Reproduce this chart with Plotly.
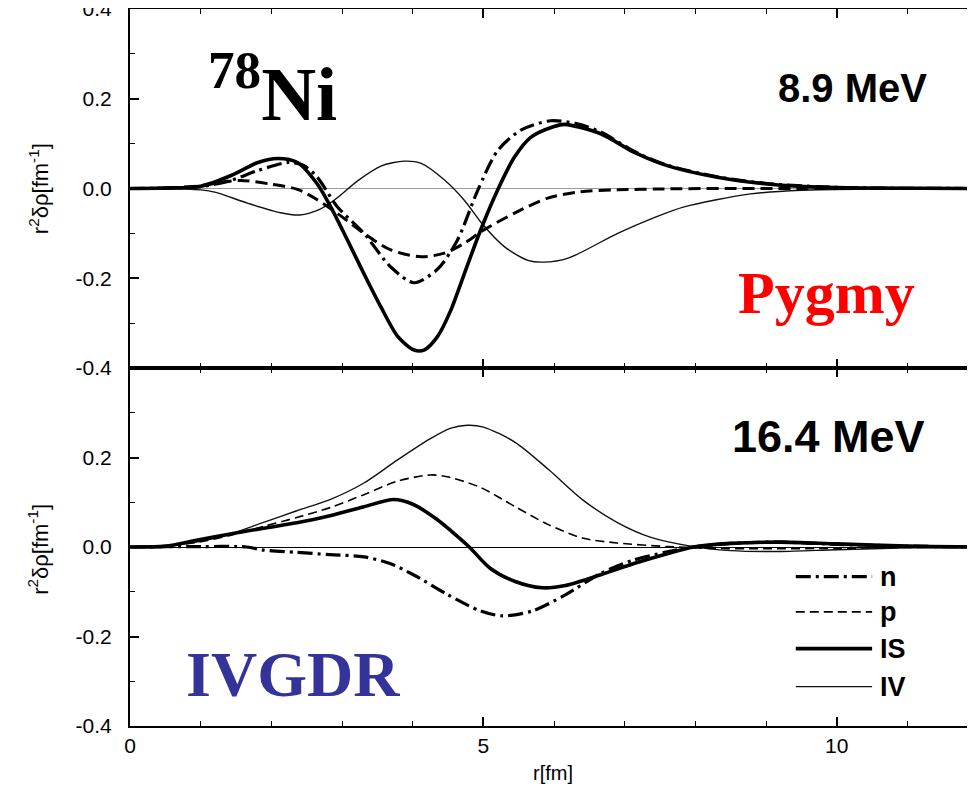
import plotly.graph_objects as go

# ---------------- data ----------------
# upper panel: 8.9 MeV (Pygmy)
r_is_top = [0, 0.5, 1.0, 1.43, 1.81, 2.09, 2.37, 2.65, 2.84, 3.08, 3.31, 3.55, 3.79, 4.02, 4.16,
            4.35, 4.54, 4.73, 4.96, 5.2, 5.44, 5.67, 6.0, 6.15, 6.66, 7.13, 7.6, 8.31, 9.02, 9.73, 10.5, 12]
v_is_top = [0, 0.001, 0.005, 0.029, 0.058, 0.067, 0.058, 0.010, -0.041, -0.116, -0.19, -0.264, -0.33, -0.36, -0.36,
            -0.33, -0.271, -0.19, -0.093, -0.004, 0.07, 0.114, 0.138, 0.143, 0.122, 0.081, 0.051, 0.025, 0.010, 0.003, 0.001, 0]

r_n_top = [0, 0.5, 1.0, 1.43, 1.81, 2.23, 2.45, 2.65, 2.93, 3.31, 3.69, 4.02, 4.35, 4.63, 4.92, 5.2,
           5.53, 5.95, 6.3, 6.66, 7.13, 7.6, 8.31, 9.02, 9.73, 10.5, 12]
v_n_top = [0, 0.001, 0.004, 0.018, 0.04, 0.058, 0.052, 0.025, -0.04, -0.1, -0.175, -0.21, -0.18, -0.116, -0.004, 0.084,
           0.13, 0.151, 0.145, 0.126, 0.083, 0.052, 0.026, 0.011, 0.004, 0.001, 0]

r_p_top = [0, 0.5, 1.0, 1.3, 1.57, 1.98, 2.37, 2.65, 2.93, 3.31, 3.69, 4.12, 4.45, 4.73, 5.0, 5.44,
           5.9, 6.33, 6.9, 7.5, 8.5, 12]
v_p_top = [0, 0.001, 0.006, 0.014, 0.018, 0.01, -0.002, -0.025, -0.055, -0.1, -0.137, -0.152, -0.144, -0.122, -0.093, -0.055,
           -0.022, -0.008, -0.003, -0.001, 0, 0]

r_iv_top = [0, 0.8, 1.0, 1.2, 1.67, 2.13, 2.4, 2.69, 2.93, 3.22, 3.55, 3.88, 4.12, 4.45, 4.73, 5.0,
            5.3, 5.63, 5.85, 6.2, 6.9, 7.4, 7.84, 8.78, 9.5, 10.5, 12]
v_iv_top = [0, -0.001, -0.003, -0.008, -0.033, -0.054, -0.059, -0.046, -0.021, 0.017, 0.05, 0.061, 0.056, 0.019, -0.026, -0.082,
            -0.13, -0.16, -0.164, -0.155, -0.1, -0.066, -0.041, -0.012, -0.004, -0.001, 0]

# lower panel: 16.4 MeV (IVGDR)
r_iv_bot = [0, 0.5, 0.94, 1.42, 1.89, 2.36, 2.83, 3.31, 3.78, 4.25, 4.53, 4.77, 5.0, 5.45, 5.93, 6.4,
            6.89, 7.36, 7.93, 8.5, 9.2, 10, 11, 12]
v_iv_bot = [0, 0.002, 0.011, 0.029, 0.055, 0.081, 0.106, 0.143, 0.194, 0.242, 0.265, 0.272, 0.268, 0.234, 0.172, 0.106,
            0.055, 0.022, 0.002, -0.008, -0.01, -0.006, -0.002, 0]

r_p_bot = [0, 0.5, 0.94, 1.42, 1.89, 2.36, 2.83, 3.31, 3.78, 4.25, 4.49, 4.96, 5.45, 5.92, 6.4, 6.89,
           7.6, 8.2, 9, 10, 11, 12]
v_p_bot = [0, 0.002, 0.01, 0.026, 0.046, 0.066, 0.088, 0.117, 0.147, 0.161, 0.157, 0.133, 0.09, 0.05, 0.02, 0.009,
           0.001, -0.003, -0.004, -0.003, -0.001, 0]

r_is_bot = [0, 0.5, 0.94, 1.42, 1.89, 2.36, 2.83, 3.31, 3.73, 4.01, 4.34, 4.55, 4.8, 5.1, 5.45,
            5.83, 6.16, 6.66, 7.13, 7.6, 7.97, 8.5, 9.2, 10, 11, 12]
v_is_bot = [0, 0.002, 0.015, 0.029, 0.042, 0.054, 0.07, 0.09, 0.106, 0.095, 0.062, 0.035, 0.0, -0.048, -0.077,
            -0.091, -0.086, -0.062, -0.037, -0.015, 0.0, 0.008, 0.011, 0.007, 0.002, 0]

r_n_bot = [0, 1.0, 1.65, 1.89, 2.36, 2.83, 3.31, 3.68, 4.01, 4.49, 4.96, 5.27, 5.69, 6.16, 6.66, 7.13,
           7.6, 7.97, 8.5, 9.2, 10, 11, 12]
v_n_bot = [0, 0.001, 0, -0.007, -0.012, -0.017, -0.022, -0.037, -0.062, -0.106, -0.143, -0.154, -0.143, -0.107, -0.059, -0.029,
           -0.011, 0.0, 0.008, 0.011, 0.006, 0.002, 0]

legend_names = ["n", "p", "IS", "IV"]
y_ticks_top = [-0.4, -0.2, 0.0, 0.2, 0.4]
y_ticks_bot = [-0.4, -0.2, 0.0, 0.2]
x_ticks = [0, 5, 10]

# ---------------- styles ----------------
DASHDOT = "15px,5px,3px,5px"
style = {
    "n": dict(color="black", width=3.2, dash=DASHDOT),
    "p_top": dict(color="black", width=3.0, dash="12px,6px"),
    "p_bot": dict(color="black", width=1.6, dash="9px,5px"),
    "IS": dict(color="black", width=3.6, dash="solid"),
    "IV": dict(color="#111111", width=1.4, dash="solid"),
}

fig = go.Figure()

def add(r, v, st, xa, ya):
    fig.add_trace(go.Scatter(x=r, y=v, mode="lines", line=dict(**st, shape="spline", smoothing=0.8),
                             xaxis=xa, yaxis=ya, showlegend=False, hoverinfo="skip"))

add(r_iv_top, v_iv_top, style["IV"], "x2", "y2")
add(r_p_top, v_p_top, style["p_top"], "x2", "y2")
add(r_n_top, v_n_top, style["n"], "x2", "y2")
add(r_is_top, v_is_top, style["IS"], "x2", "y2")

add(r_iv_bot, v_iv_bot, style["IV"], "x", "y")
add(r_p_bot, v_p_bot, style["p_bot"], "x", "y")
add(r_n_bot, v_n_bot, style["n"], "x", "y")
add(r_is_bot, v_is_bot, style["IS"], "x", "y")

sans = "Liberation Sans, Arial, sans-serif"
serif = "Liberation Serif, Times New Roman, serif"
tickfont = dict(family=sans, size=21, color="black")
XR = [0, 11.97]
common_x = dict(range=XR, showline=True, linewidth=2, linecolor="black", mirror="ticks",
                ticks="inside", ticklen=9, tickwidth=1.6, tickcolor="black", automargin=False,
                tickvals=x_ticks, showgrid=False, zeroline=False,
                minor=dict(dtick=1, tick0=0, ticks="inside", ticklen=5, tickwidth=1.4, tickcolor="black"))
common_y = dict(range=[-0.4, 0.4], showline=True, linewidth=2, linecolor="black", mirror="ticks",
                ticks="inside", ticklen=9, tickwidth=1.6, tickcolor="black", showgrid=False, automargin=False,
                zeroline=True, zerolinewidth=1, tickfont=tickfont, ticklabelstandoff=12,
                ticklabeloverflow="allow",
                minor=dict(tickvals=[-0.3, -0.1, 0.1, 0.3], ticks="inside", ticklen=5, tickwidth=1.4, tickcolor="black"))

H_BOT = 358 / 717

fig.update_layout(
    width=975, height=792,
    margin=dict(l=122, r=7, t=1, b=74),
    plot_bgcolor="white", paper_bgcolor="white",
    xaxis=dict(**common_x, anchor="y", tickfont=tickfont, ticklabelstandoff=0,
               title=dict(text="r[fm]", font=dict(family=sans, size=20, color="black"), standoff=10)),
    xaxis2=dict(**common_x, anchor="y2", matches="x", showticklabels=False),
    yaxis=dict(**common_y, domain=[0, H_BOT], anchor="x", zerolinecolor="black",
               tickvals=y_ticks_bot, ticktext=["%.1f" % t for t in y_ticks_bot]),
    yaxis2=dict(**common_y, domain=[H_BOT, 1], anchor="x2", zerolinecolor="#9a9a9a",
                tickvals=y_ticks_top, ticktext=["%.1f" % t for t in y_ticks_top]),
)

ylab_font = dict(family=sans, size=22, color="black")
ylab = "r<sup>2</sup>δρ[fm<sup>-1</sup>]"
fig.add_annotation(text=ylab, xref="paper", yref="y2", x=-0.108, y=0.0, textangle=-90,
                   showarrow=False, font=ylab_font, xanchor="center", yanchor="middle")
fig.add_annotation(text=ylab, xref="paper", yref="y", x=-0.108, y=-0.005, textangle=-90,
                   showarrow=False, font=ylab_font, xanchor="center", yanchor="middle")

fig.add_annotation(text="<b><sup>78</sup>Ni</b>", xref="x2", yref="y2", x=1.08, y=0.222, showarrow=False,
                   xanchor="left", yanchor="middle", font=dict(family=serif, size=76, color="black"))
fig.add_annotation(text="<b>8.9 MeV</b>", xref="x2", yref="y2", x=11.3, y=0.224, showarrow=False,
                   xanchor="right", yanchor="middle", font=dict(family=sans, size=40, color="black"))
fig.add_annotation(text="<b>Pygmy</b>", xref="x2", yref="y2", x=9.85, y=-0.232, showarrow=False,
                   xanchor="center", yanchor="middle", font=dict(family=serif, size=60, color="#ff0000"))
fig.add_annotation(text="<b>16.4 MeV</b>", xref="x", yref="y", x=11.28, y=0.247, showarrow=False,
                   xanchor="right", yanchor="middle", font=dict(family=sans, size=45, color="black"))
fig.add_annotation(text="<b>IVGDR</b>", xref="x", yref="y", x=2.3, y=-0.285, showarrow=False,
                   xanchor="center", yanchor="middle", font=dict(family=serif, size=64, color="#333399"))

# manual legend (samples + labels) in the lower panel
leg_y = [-0.066, -0.145, -0.227, -0.312]
leg_styles = [style["n"], style["p_bot"], style["IS"], style["IV"]]
for name, yy, st in zip(legend_names, leg_y, leg_styles):
    fig.add_shape(type="line", xref="x", yref="y", x0=9.42, x1=10.5, y0=yy, y1=yy,
                  line=dict(color=st["color"], width=st["width"], dash=st["dash"]))
    fig.add_annotation(text="<b>%s</b>" % name, xref="x", yref="y", x=10.58, y=yy, showarrow=False,
                       xanchor="left", yanchor="middle", font=dict(family=sans, size=27, color="black"))

fig.write_html("out.html")
